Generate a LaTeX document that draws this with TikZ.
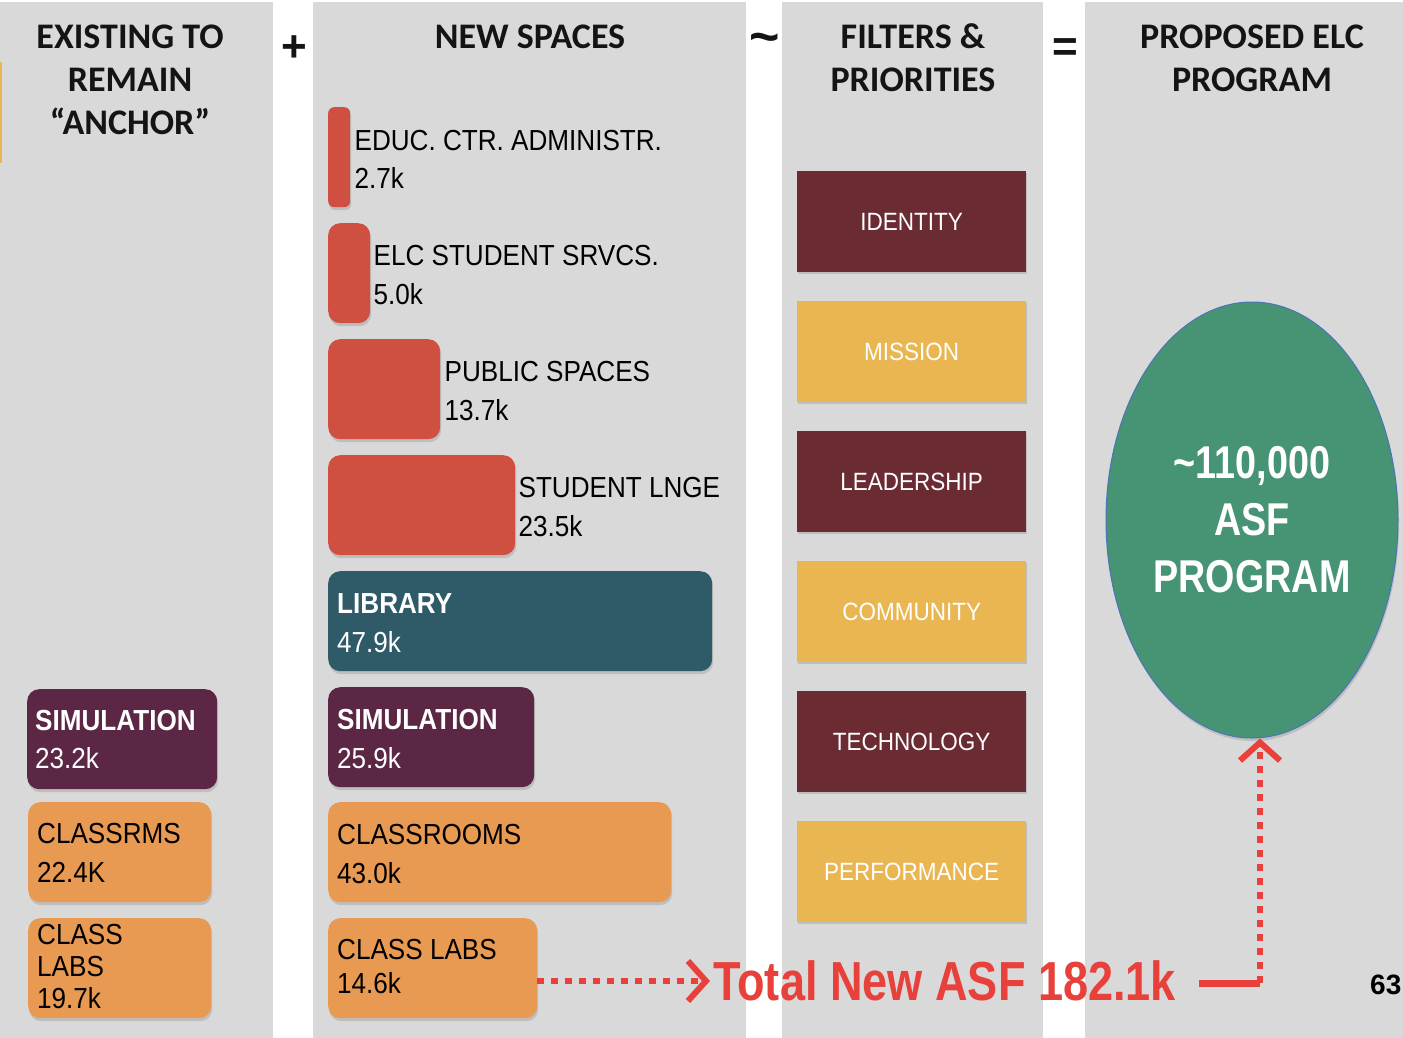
\documentclass[tikz,border=0pt]{standalone}
\usepackage{fontspec}
\setmainfont{Liberation Sans}
\newfontfamily\headfont{Carlito}
\newfontfamily\narrowfont[FakeStretch=0.9]{Liberation Sans}
\newfontfamily\tightfont[FakeStretch=0.82]{Liberation Sans}
\usetikzlibrary{shapes.geometric, shadows, arrows.meta, positioning}

\definecolor{panelgray}{HTML}{D9D9D9}
\definecolor{headblack}{HTML}{141414}
\definecolor{barred}{HTML}{CF4F40}
\definecolor{libteal}{HTML}{2F5A67}
\definecolor{simpurple}{HTML}{5C2745}
\definecolor{roomorange}{HTML}{E99A52}
\definecolor{maroon}{HTML}{6A2B33}
\definecolor{gold}{HTML}{E9B651}
\definecolor{elcgreen}{HTML}{479474}
\definecolor{rimblue}{HTML}{4A74B8}
\definecolor{totalred}{HTML}{E8403A}

\begin{document}
\begin{tikzpicture}[x=1pt, y=-1pt,
    head/.style={align=center, anchor=base, inner sep=0pt, text=headblack,
        font=\headfont\bfseries\fontsize{36}{43}\selectfont},
    oper/.style={head, font=\bfseries\fontsize{44}{44}\selectfont},
    space/.style={anchor=north west, draw=none, inner sep=0pt, rounded corners=12pt,
        minimum height=100pt,
        drop shadow={shadow xshift=1pt, shadow yshift=-3pt, opacity=0.3}},
    bar/.style={space, fill=barred},
    lbl/.style={anchor=base west, align=left, inner sep=0pt, text=black,
        font=\narrowfont\fontsize{29}{39}\selectfont},
    wlbl/.style={lbl, text=white},
    filter/.style={anchor=north west, draw=none, inner sep=0pt,
        minimum width=229pt, minimum height=101pt, text=white,
        font=\narrowfont\fontsize{25}{30}\selectfont,
        drop shadow={shadow xshift=1pt, shadow yshift=-2pt, opacity=0.3}},
    dotline/.style={totalred, line width=6pt, dash pattern=on 7pt off 7pt},
    chevron/.style={-{Straight Barb[length=18pt, width=40pt, line width=6pt]}}
]
    % background and the four columns
    \useasboundingbox (0,0) rectangle (1403,1038);
    \fill[white] (0,0) rectangle (1403,1038);
    \fill[panelgray] (0,2) rectangle (273,1038);
    \fill[panelgray] (313,2) rectangle (746,1038);
    \fill[panelgray] (782,2) rectangle (1043,1038);
    \fill[panelgray] (1085,2) rectangle (1403,1038);
    \fill[gold] (0,62) rectangle (2,163);

    % column titles and operators (base = last line)
    \node[head] (h-exist) at (130,135) {EXISTING TO\\REMAIN\\“ANCHOR”};
    \node[head] (h-new) at (530,49) {NEW SPACES};
    \node[head] (h-filt) at (913,92) {FILTERS \&\\PRIORITIES};
    \node[head] (h-prop) at (1252,92) {PROPOSED ELC\\PROGRAM};
    \node[oper] (plus) at (294,62) {+};
    \node[oper, font=\bfseries\fontsize{52}{52}\selectfont] (tilde) at (765,55) {\textasciitilde};
    \node[oper] (equals) at (1065,62) {=};

    % existing spaces
    \node[space, fill=simpurple, minimum width=190pt] (exsim) at (27,689) {};
    \node[space, fill=roomorange, minimum width=183pt] (exclass) at (28,802) {};
    \node[space, fill=roomorange, minimum width=183pt] (exlabs) at (28,918) {};
    \node[wlbl, font=\narrowfont\bfseries\fontsize{29}{38}\selectfont] (exsim-l)
        at ([shift={(8pt,-79pt)}]exsim.north west) {SIMULATION\\\mdseries 23.2k};
    \node[lbl] (exclass-l) at ([shift={(9pt,-80pt)}]exclass.north west) {CLASSRMS\\22.4K};
    \node[lbl, font=\narrowfont\fontsize{29}{32}\selectfont] (exlabs-l)
        at ([shift={(9pt,-90pt)}]exlabs.north west) {CLASS\\LABS\\19.7k};

    % new spaces
    \node[bar, minimum width=22pt, rounded corners=6pt] (educ) at (328,107) {};
    \node[bar, minimum width=42pt] (elc) at (328,223) {};
    \node[bar, minimum width=112pt] (pub) at (328,339) {};
    \node[bar, minimum width=187pt] (lounge) at (328,455) {};
    \node[space, fill=libteal, minimum width=384pt] (lib) at (328,571) {};
    \node[space, fill=simpurple, minimum width=206pt] (sim) at (328,687) {};
    \node[space, fill=roomorange, minimum width=343pt] (classrm) at (328,802) {};
    \node[space, fill=roomorange, minimum width=209pt] (labs) at (328,918) {};

    \node[lbl] (educ-l) at ([shift={(4pt,-82pt)}]educ.north east) {EDUC. CTR. ADMINISTR.\\2.7k};
    \node[lbl] (elc-l) at ([shift={(3pt,-81pt)}]elc.north east) {ELC STUDENT SRVCS.\\5.0k};
    \node[lbl] (pub-l) at ([shift={(4pt,-81pt)}]pub.north east) {PUBLIC SPACES\\13.7k};
    \node[lbl] (lounge-l) at ([shift={(3pt,-81pt)}]lounge.north east) {STUDENT LNGE\\23.5k};
    \node[wlbl, font=\narrowfont\bfseries\fontsize{29}{39}\selectfont] (lib-l)
        at ([shift={(9pt,-81pt)}]lib.north west) {LIBRARY\\\mdseries 47.9k};
    \node[wlbl, font=\narrowfont\bfseries\fontsize{29}{39}\selectfont] (sim-l)
        at ([shift={(9pt,-81pt)}]sim.north west) {SIMULATION\\\mdseries 25.9k};
    \node[lbl] (classrm-l) at ([shift={(9pt,-81pt)}]classrm.north west) {CLASSROOMS\\43.0k};
    \node[lbl, font=\narrowfont\fontsize{29}{34}\selectfont] (labs-l)
        at ([shift={(9pt,-75pt)}]labs.north west) {CLASS LABS\\14.6k};

    % filters and priorities
    \foreach \n/\t/\c [count=\i] in {ident/IDENTITY/maroon, miss/MISSION/gold,
        lead/LEADERSHIP/maroon, comm/COMMUNITY/gold, tech/TECHNOLOGY/maroon,
        perf/PERFORMANCE/gold}
        \node[filter, fill=\c] (\n) at (797,41+130*\i) {\t};

    % proposed program
    \node[ellipse, minimum width=292pt, minimum height=436pt, fill=elcgreen,
        draw=rimblue, line width=1pt, text=white, align=center,
        font=\tightfont\bfseries\fontsize{46}{57}\selectfont,
        drop shadow={shadow xshift=1pt, shadow yshift=-3pt, opacity=0.3}]
        (prog) at (1252,520) {\textasciitilde110,000\\ASF\\PROGRAM};

    % total of the new spaces
    \node[anchor=west, inner sep=0pt, text=totalred,
        font=\tightfont\bfseries\fontsize{55}{55}\selectfont] (total) at (713,981)
        {Total New ASF 182.1k};
    \coordinate (turn) at (1260,983);
    \draw[dotline, chevron, shorten >=3pt] (labs.east |- total.west) -- (total.west);
    \draw[totalred, line width=7pt] ([xshift=23pt]total.east |- turn) -- (turn);
    \draw[dotline, chevron] (turn) -- (turn |- prog.south);

    % page number
    \node[anchor=west, inner sep=0pt, font=\bfseries\fontsize{28}{28}\selectfont] (page)
        at (1370,985) {63};
\end{tikzpicture}
\end{document}
